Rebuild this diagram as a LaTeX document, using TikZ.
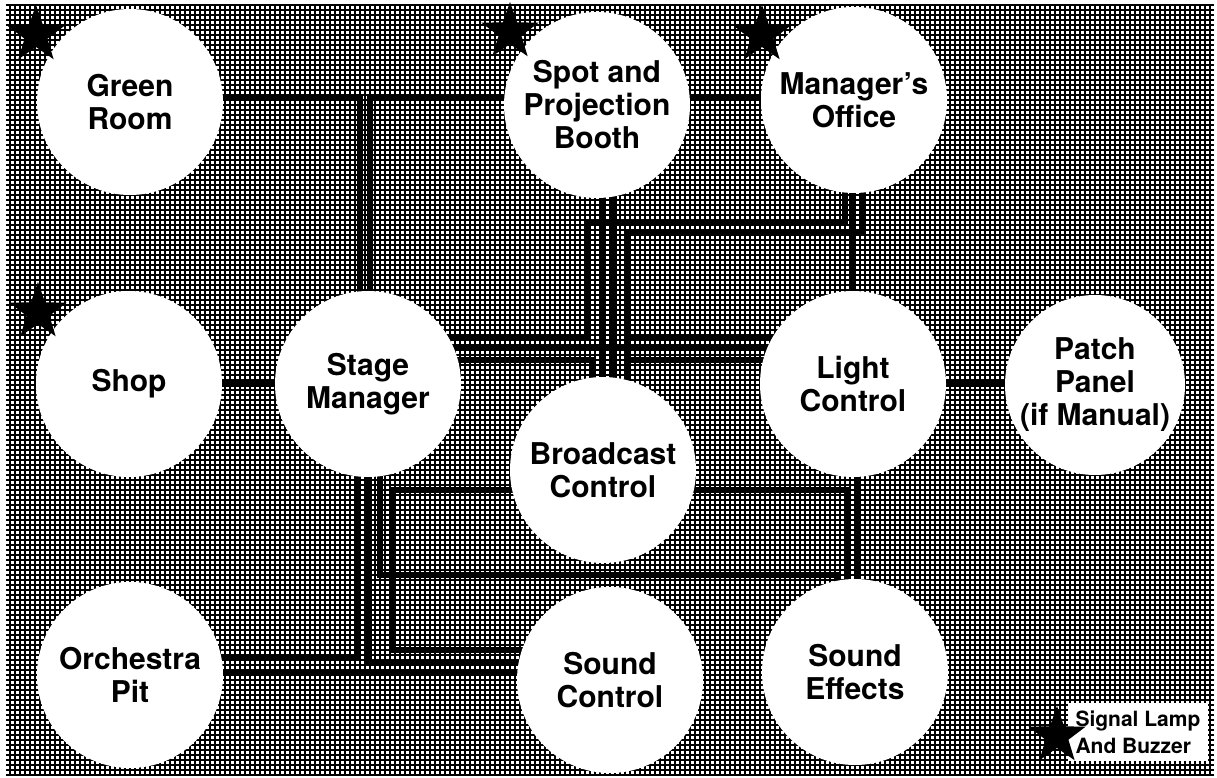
\documentclass[tikz,border=0pt]{standalone}
\usepackage{fontspec}
\setsansfont{TeX Gyre Heros}
\usetikzlibrary{shapes.geometric,backgrounds}
\begin{document}
\begin{tikzpicture}[x=1pt,y=-1pt,
  room/.style={circle, fill=white, minimum size=186pt, inner sep=0pt, align=center,
    font=\fontsize{30}{33}\selectfont\sffamily\bfseries},
  wire/.style={line width=6pt, black, line join=miter},
  hatch/.style={line width=1.5pt, black},
  lamp/.style={star, star points=5, star point ratio=2.5, fill=black, minimum size=60pt, inner sep=0pt},
  legendbox/.style={fill=white, minimum width=140pt, minimum height=58pt, inner sep=0pt, align=left,
    font=\fontsize{21}{27}\selectfont\sffamily\bfseries}]
\useasboundingbox (0,0) rectangle (1217,778);

% rooms
\node[room] (gr)   at (130,102) {Green\\Room};
\node[room] (spot) at (597,105) {Spot and\\Projection\\Booth};
\node[room] (mo)   at (854,100) {Manager’s\\Office};
\node[room] (shop) at (129,384) {Shop};
\node[room] (sm)   at (368,384) {Stage\\Manager};
\node[room] (bc)   at (603,470) {Broadcast\\Control};
\node[room] (lc)   at (853,384) {Light\\Control};
\node[room, minimum size=180pt] (pp) at (1095,385) {Patch\\Panel\\(if Manual)};
\node[room] (op)   at (130,675) {Orchestra\\Pit};
\node[room] (sc)   at (610,680) {Sound\\Control};
\node[room] (se)   at (855,672) {Sound\\Effects};

% legend
\node[legendbox] (sig) at (1138,732) {Signal Lamp\\And Buzzer};

% signal lamps
\node[lamp] (st1) at (36,35) {};
\node[lamp] (st2) at (510,32) {};
\node[lamp] (st3) at (762,35) {};
\node[lamp] (st4) at (38,312) {};
\node[lamp] (st5) at (1057,736) {};

% wire bend points
\coordinate (a1) at (360,97);
\coordinate (a2) at (370,97);
\coordinate (b1) at (845,223);
\coordinate (b2) at (587,223);
\coordinate (b3) at (587,337);
\coordinate (b4) at (862,233);
\coordinate (b5) at (628,233);
\coordinate (b6) at (628,337);
\coordinate (b7) at (628,360);
\coordinate (b8) at (852,250);
\coordinate (c1) at (602,300);
\coordinate (c2) at (614,300);
\coordinate (h2) at (500,348);
\coordinate (f1) at (592,360);
\coordinate (d1) at (358,657);
\coordinate (d2) at (369,662);
\coordinate (d3) at (400,672);
\coordinate (d4) at (380,575);
\coordinate (d5) at (837,575);
\coordinate (e1) at (393,490);
\coordinate (e2) at (393,650);
\coordinate (e3) at (848,490);
\coordinate (e4) at (858,530);

\begin{pgfonlayer}{background}
  \fill[white] (0,0) rectangle (1217,778);
  \draw[hatch, step=5pt] (6,4) grid (1214,776);
  % upper wiring
  \draw[wire] (gr.center |- a1) -- (a1) -- (a1 |- sm.center);
  \draw[wire] (spot.center |- a2) -- (a2) -- (a2 |- sm.center);
  \draw[wire] (spot.center |- a1) -- (mo.center |- a1);
  \draw[wire] (shop) -- (sm);
  \draw[wire] (lc.center) -- (pp.center |- lc.center);
  \draw[wire] (b1 |- mo.center) -- (b1) -- (b2) -- (b3) -- (sm.center |- b3);
  \draw[wire] (b4 |- mo.center) -- (b4) -- (b5) -- (b5 |- bc.center);
  \draw[wire] (b6) -- (lc.center |- b6);
  \draw[wire] (b7) -- (lc.center |- b7);
  \draw[wire] (b8 |- mo.center) -- (b8 |- lc.center);
  \draw[wire] (c1 |- spot.center) -- (c1 |- bc.center);
  \draw[wire] (c2 |- spot.center) -- (c2 |- bc.center);
  \draw[wire] (sm.center |- h2) -- (lc.center |- h2);
  \draw[wire] (sm.center |- f1) -- (f1) -- (f1 |- bc.center);
  % lower wiring
  \draw[wire] (d1 |- sm.center) -- (d1) -- (op.center |- d1);
  \draw[wire] (d2 |- sm.center) -- (d2) -- (sc.center |- d2);
  \draw[wire] (op.center |- d3) -- (sc.center |- d3);
  \draw[wire] (d4 |- sm.center) -- (d4) -- (d5) -- (d5 |- se.center);
  \draw[wire] (bc.center |- e1) -- (e1) -- (e2) -- (sc.center |- e2);
  \draw[wire] (bc.center |- e3) -- (e3) -- (e3 |- se.center);
  \draw[wire] (e4 |- lc.center) -- (e4 |- se.center);
\end{pgfonlayer}
\end{tikzpicture}
\end{document}
